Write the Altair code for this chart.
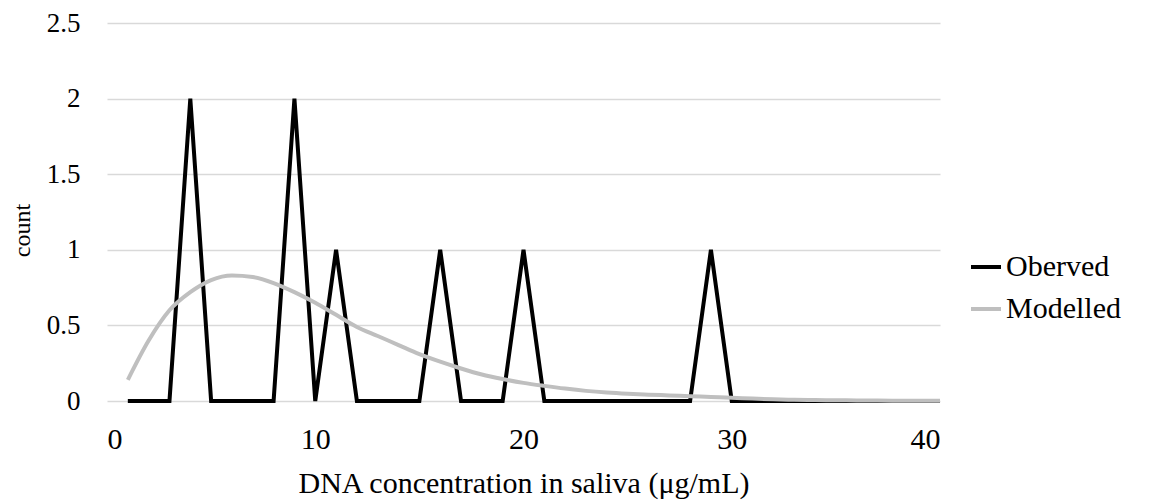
import altair as alt
import pandas as pd

conc = list(range(1, 41))
observed = [0, 0, 0, 2, 0, 0, 0, 0, 2, 0,
            1, 0, 0, 0, 0, 1, 0, 0, 0, 1,
            0, 0, 0, 0, 0, 0, 0, 0, 1, 0,
            0, 0, 0, 0, 0, 0, 0, 0, 0, 0]
modelled = [0.14, 0.40, 0.60, 0.72, 0.80, 0.83, 0.82, 0.78, 0.72, 0.65,
            0.57, 0.49, 0.43, 0.37, 0.31, 0.26, 0.215, 0.175, 0.145, 0.12,
            0.10, 0.082, 0.067, 0.056, 0.048, 0.042, 0.037, 0.032, 0.027, 0.022,
            0.016, 0.011, 0.008, 0.006, 0.005, 0.004, 0.003, 0.002, 0.002, 0.001]
series_names = ["Oberved", "Modelled"]
series_colors = ["#000000", "#bfbfbf"]

obs_df = pd.DataFrame({"x": conc, "count": observed, "series": series_names[0]})
mod_df = pd.DataFrame({"x": conc, "count": modelled, "series": series_names[1]})

FONT = "Liberation Serif"

x_enc = alt.X("x:Q", scale=alt.Scale(domain=[0, 40], nice=False),
              axis=alt.Axis(values=[0, 10, 20, 30, 40], title="DNA concentration in saliva (μg/mL)",
                            grid=False, domain=False, ticks=False,
                            labelBaseline="alphabetic", labelPadding=47,
                            titleBaseline="alphabetic", titleY=91))
y_enc = alt.Y("count:Q", scale=alt.Scale(domain=[0, 2.5], nice=False),
              axis=alt.Axis(values=[0, 0.5, 1, 1.5, 2, 2.5], title="count",
                            grid=True, domain=False, ticks=False, labelPadding=27,
                            labelFontSize=27,
                            titleX=-85, titleY=207, titleBaseline="middle",
                            titleFontSize=24, format="~g"))
color_enc = alt.Color("series:N", scale=alt.Scale(domain=series_names, range=series_colors),
                      legend=alt.Legend(title=None, orient="none", legendX=862, legendY=227,
                                        symbolType="stroke", symbolStrokeWidth=4,
                                        symbolSize=900, rowPadding=10, labelOffset=3))

mod_line = alt.Chart(mod_df).mark_line(strokeWidth=4, interpolate="monotone").encode(
    x=x_enc, y=y_enc, color=color_enc)
obs_line = alt.Chart(obs_df).mark_line(strokeWidth=4, interpolate="linear").encode(
    x=x_enc, y=y_enc, color=color_enc)

chart = alt.layer(obs_line, mod_line).properties(
    width=833, height=378,
    autosize=alt.AutoSizeParams(type="none"),
    padding={"left": 99, "top": 15, "right": 210, "bottom": 99},
).configure(font=FONT).configure_view(stroke=None).configure_axis(
    labelFont=FONT, titleFont=FONT, labelFontSize=30, titleFontSize=30,
    labelColor="#000000", titleColor="#000000", titleFontWeight="normal",
    gridColor="#d9d9d9", gridWidth=1.5,
).configure_legend(labelFont=FONT, labelFontSize=30, labelColor="#000000")

chart.save("out.html", embed_options={"renderer": "svg", "actions": False})
